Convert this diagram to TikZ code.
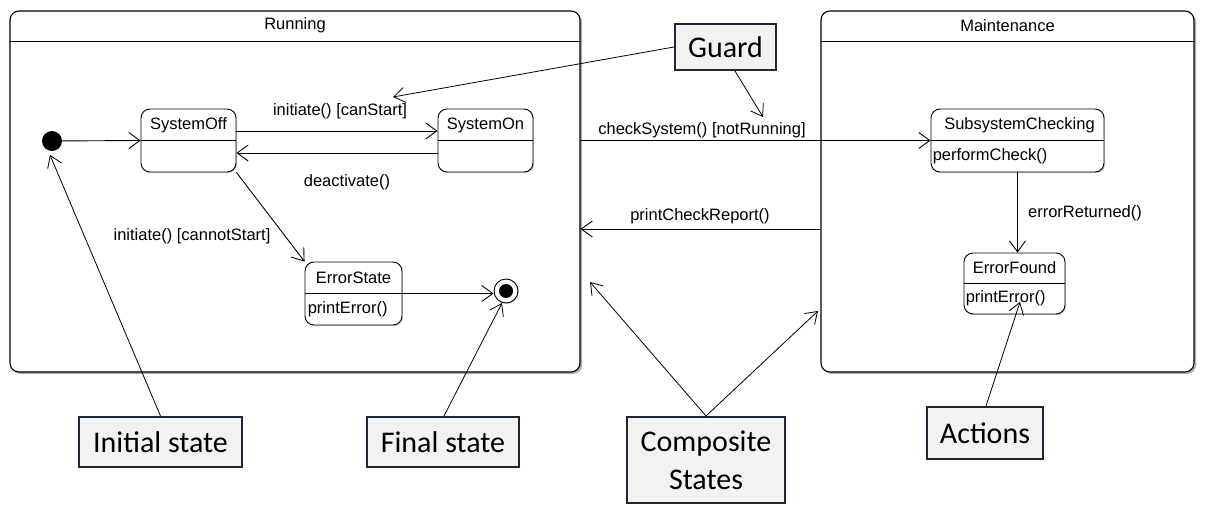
\documentclass[tikz,border=0pt]{standalone}
\usepackage{fontspec}
\setmainfont{Liberation Sans}
\newfontfamily\callfont{Carlito}
\usetikzlibrary{arrows.meta,calc,shadows}
\definecolor{callborder}{HTML}{1F2636}
\definecolor{callfill}{HTML}{F2F2F2}
\begin{document}
\begin{tikzpicture}[x=1pt,y=-1pt,
  umltext/.style={font=\fontsize{16.5}{19}\selectfont, inner sep=0pt},
  comp/.style={draw, line width=1.1pt, rounded corners=9pt, fill=white,
    drop shadow={shadow xshift=2pt,shadow yshift=-2pt,fill=black!45,opacity=.7}},
  st/.style={draw, line width=0.9pt, rounded corners=9pt, fill=white,
    drop shadow={shadow xshift=1.2pt,shadow yshift=-1.2pt,fill=black!30,opacity=.6}},
  trans/.style={draw, line width=0.9pt, -{Straight Barb[length=11pt,width=16pt,line width=0.9pt]}},
  note/.style={draw, line width=0.8pt, -{Straight Barb[length=11pt,width=15pt,line width=0.8pt]}},
  call/.style={draw=callborder, line width=2pt, fill=callfill, font=\callfont\fontsize{30}{36}\selectfont, align=center, inner sep=0pt},
]
\useasboundingbox (0,0) rectangle (1208,516);
\fill[white] (0,0) rectangle (1208,516);

% composite states
\node[comp, minimum width=570, minimum height=361] (run) at (295,191.5) {};
\draw[line width=1.1pt] ([yshift=-31pt]run.north west) -- ([yshift=-31pt]run.north east);
\node[umltext] (runT) at ($(run.north)+(0,15)$) {Running};

\node[comp, minimum width=373, minimum height=361] (mnt) at (1007.5,191.5) {};
\draw[line width=1.1pt] ([yshift=-31pt]mnt.north west) -- ([yshift=-31pt]mnt.north east);
\node[umltext] (mntT) at ($(mnt.north)+(0,15)$) {Maintenance};

% initial and final
\node[circle, fill=black, inner sep=0pt, minimum size=20] (init) at (52,141) {};
\node[circle, draw, line width=0.9pt, fill=white, inner sep=0pt, minimum size=24,
  drop shadow={shadow xshift=1pt,shadow yshift=-1pt,fill=black!30,opacity=.6}] (fin) at (506,291) {};
\node[circle, fill=black, inner sep=0pt, minimum size=14] (finIn) at (fin.center) {};

% simple states
\node[st, minimum width=95, minimum height=63] (soff) at (188.5,140.5) {};
\draw[line width=0.9pt] (soff.west) -- (soff.east);
\node[umltext] (soffT) at ($(soff.center)+(0,-15.5)$) {SystemOff};

\node[st, minimum width=95, minimum height=63] (son) at (485.5,140.5) {};
\draw[line width=0.9pt] (son.west) -- (son.east);
\node[umltext] (sonT) at ($(son.center)+(0,-15.5)$) {SystemOn};

\node[st, minimum width=97, minimum height=63] (err) at (353.5,293.5) {};
\draw[line width=0.9pt] (err.west) -- (err.east);
\node[umltext] (errT) at ($(err.center)+(0,-15.5)$) {ErrorState};
\node[umltext, anchor=west] (errA) at ($(err.west)+(3,16)$) {printError()};

\node[st, minimum width=173, minimum height=63] (ssc) at (1017.5,140.5) {};
\draw[line width=0.9pt] (ssc.west) -- (ssc.east);
\node[umltext] (sscT) at ($(ssc.center)+(2,-15.5)$) {SubsystemChecking};
\node[umltext, anchor=west] (sscA) at ($(ssc.west)+(2,16)$) {performCheck()};

\node[st, minimum width=101, minimum height=61] (ef) at (1014.5,283.5) {};
\draw[line width=0.9pt] (ef.west) -- (ef.east);
\node[umltext] (efT) at ($(ef.center)+(0,-16)$) {ErrorFound};
\node[umltext, anchor=west] (efA) at ($(ef.west)+(2,15)$) {printError()};

% transitions
\draw[trans] (init) -- (soff.west);
\draw[trans] ([yshift=9.5pt]soff.east) -- ([yshift=9.5pt]son.west);
\draw[trans] ([yshift=-12.5pt]son.west) -- ([yshift=-12.5pt]soff.east);
\draw[trans] (soff.south east) -- (err.north west);
\draw[trans] (err.east) -- (err.east -| fin.west);
\draw[trans] (run.east |- ssc.west) -- (ssc.west);
\draw[trans] (ssc.south) -- (ssc.south |- ef.north);
\draw[trans] ([yshift=-37.5pt]mnt.west) -- ([yshift=-37.5pt]run.east);

\node[umltext] (l1) at (340,111) {initiate() [canStart]};
\node[umltext] (l2) at (347,182) {deactivate()};
\node[umltext] (l3) at (192,236) {initiate() [cannotStart]};
\node[umltext] (l4) at (702,130) {checkSystem() [notRunning]};
\node[umltext] (l5) at (700,216) {printCheckReport()};
\node[umltext] (l6) at (1085,213) {errorReturned()};

% callouts
\node[call, minimum width=101, minimum height=46] (guard) at (725.5,47) {Guard};
\node[call, minimum width=163, minimum height=50] (ini) at (160.5,442) {Initial state};
\node[call, minimum width=152, minimum height=50] (fs) at (443,442) {Final state};
\node[call, minimum width=158, minimum height=86] (cs) at (706,460) {Composite\\[2pt]States};
\node[call, minimum width=116, minimum height=52] (act) at (985,433) {Actions};

\coordinate (gT1) at (393,97);
\coordinate (gT2) at (763,117);
\coordinate (iT) at (50,155);
\coordinate (fT) at (502,303);
\coordinate (cT1) at (590,282);
\coordinate (cT2) at (818,311);
\coordinate (aT) at (1020,302);

\draw[note] (guard.west) -- (gT1);
\draw[note] ([xshift=9.5pt]guard.south) -- (gT2);
\draw[note] (ini.north) -- (iT);
\draw[note] ([xshift=1pt]fs.north) -- (fT);
\draw[note] (cs.north) -- (cT1);
\draw[note] (cs.north) -- (cT2);
\draw[note] ([xshift=1pt]act.north) -- (aT);
\end{tikzpicture}
\end{document}
